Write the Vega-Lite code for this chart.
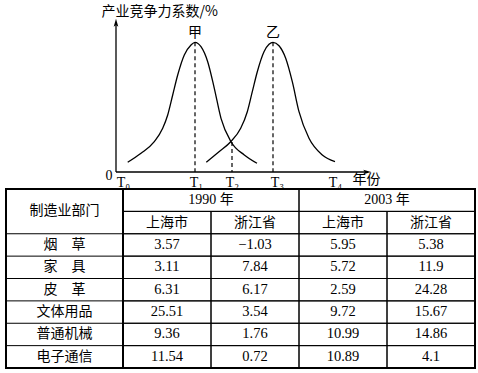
{
  "$schema": "https://vega.github.io/schema/vega-lite/v6.json",
  "padding": {"left": 4, "top": 0, "right": 0, "bottom": 0},
  "background": "white",
  "spacing": 0,
  "bounds": "flush",
  "config": {"view": {"stroke": null}},
  "datasets": {
    "curves": [
      {"series": "甲", "t": 11.7, "v": 9.7}, {"series": "甲", "t": 25, "v": 18.7}, {"series": "甲", "t": 38.3, "v": 30.3},
      {"series": "甲", "t": 46.7, "v": 43.7}, {"series": "甲", "t": 51.7, "v": 57}, {"series": "甲", "t": 56.7, "v": 77},
      {"series": "甲", "t": 61.7, "v": 97}, {"series": "甲", "t": 68.3, "v": 117}, {"series": "甲", "t": 75, "v": 127},
      {"series": "甲", "t": 79, "v": 129.7}, {"series": "甲", "t": 85, "v": 125.3}, {"series": "甲", "t": 91.7, "v": 110.3},
      {"series": "甲", "t": 98.3, "v": 83.7}, {"series": "甲", "t": 105, "v": 53.7}, {"series": "甲", "t": 115, "v": 30.3},
      {"series": "甲", "t": 128.3, "v": 17}, {"series": "甲", "t": 141, "v": 8.7},
      {"series": "乙", "t": 90.3, "v": 9.7}, {"series": "乙", "t": 103, "v": 20.3}, {"series": "乙", "t": 114.7, "v": 30.3},
      {"series": "乙", "t": 124.7, "v": 43.7}, {"series": "乙", "t": 131.3, "v": 60.3}, {"series": "乙", "t": 136.3, "v": 80.3},
      {"series": "乙", "t": 141.3, "v": 100.3}, {"series": "乙", "t": 148, "v": 120.3}, {"series": "乙", "t": 153, "v": 127.7},
      {"series": "乙", "t": 157, "v": 129.7}, {"series": "乙", "t": 163, "v": 126.3}, {"series": "乙", "t": 169.7, "v": 113.7},
      {"series": "乙", "t": 176.3, "v": 90.3}, {"series": "乙", "t": 183, "v": 60.3}, {"series": "乙", "t": 193, "v": 33.7},
      {"series": "乙", "t": 206.3, "v": 17}, {"series": "乙", "t": 219, "v": 10.3}
    ],
    "marks": [
      {"label": "甲", "t": 79, "v": 129.7},
      {"label": "乙", "t": 157, "v": 129.7},
      {"label": "", "t": 116, "v": 30}
    ],
    "departments": [
      {"row": "年份", "label": "制造业部门", "kind": "header"},
      {"row": "烟　草", "label": "烟　草", "kind": "body"},
      {"row": "家　具", "label": "家　具", "kind": "body"},
      {"row": "皮　革", "label": "皮　革", "kind": "body"},
      {"row": "文体用品", "label": "文体用品", "kind": "body"},
      {"row": "普通机械", "label": "普通机械", "kind": "body"},
      {"row": "电子通信", "label": "电子通信", "kind": "body"}
    ],
    "years": [
      {"row": "年份", "year": "1990", "label": "1990 年"},
      {"row": "年份", "year": "2003", "label": "2003 年"}
    ],
    "regions": [
      {"row": "地区", "year": "1990", "region": "上海市"},
      {"row": "地区", "year": "1990", "region": "浙江省"},
      {"row": "地区", "year": "2003", "region": "上海市"},
      {"row": "地区", "year": "2003", "region": "浙江省"}
    ],
    "values": [
      {"row": "烟　草", "year": "1990", "region": "上海市", "value": 3.57},
      {"row": "烟　草", "year": "1990", "region": "浙江省", "value": -1.03},
      {"row": "烟　草", "year": "2003", "region": "上海市", "value": 5.95},
      {"row": "烟　草", "year": "2003", "region": "浙江省", "value": 5.38},
      {"row": "家　具", "year": "1990", "region": "上海市", "value": 3.11},
      {"row": "家　具", "year": "1990", "region": "浙江省", "value": 7.84},
      {"row": "家　具", "year": "2003", "region": "上海市", "value": 5.72},
      {"row": "家　具", "year": "2003", "region": "浙江省", "value": 11.9},
      {"row": "皮　革", "year": "1990", "region": "上海市", "value": 6.31},
      {"row": "皮　革", "year": "1990", "region": "浙江省", "value": 6.17},
      {"row": "皮　革", "year": "2003", "region": "上海市", "value": 2.59},
      {"row": "皮　革", "year": "2003", "region": "浙江省", "value": 24.28},
      {"row": "文体用品", "year": "1990", "region": "上海市", "value": 25.51},
      {"row": "文体用品", "year": "1990", "region": "浙江省", "value": 3.54},
      {"row": "文体用品", "year": "2003", "region": "上海市", "value": 9.72},
      {"row": "文体用品", "year": "2003", "region": "浙江省", "value": 15.67},
      {"row": "普通机械", "year": "1990", "region": "上海市", "value": 9.36},
      {"row": "普通机械", "year": "1990", "region": "浙江省", "value": 1.76},
      {"row": "普通机械", "year": "2003", "region": "上海市", "value": 10.99},
      {"row": "普通机械", "year": "2003", "region": "浙江省", "value": 14.86},
      {"row": "电子通信", "year": "1990", "region": "上海市", "value": 11.54},
      {"row": "电子通信", "year": "1990", "region": "浙江省", "value": 0.72},
      {"row": "电子通信", "year": "2003", "region": "上海市", "value": 10.89},
      {"row": "电子通信", "year": "2003", "region": "浙江省", "value": 4.1}
    ]
  },
  "vconcat": [
    {
      "width": 469,
      "height": 189,
      "view": {"fill": "white", "stroke": null},
      "layer": [
        {
          "data": {"name": "curves"},
          "mark": {"type": "line", "interpolate": "monotone", "color": "black", "strokeWidth": 1.3},
          "encoding": {
            "x": {"field": "t", "type": "quantitative",
              "scale": {"domain": [-110, 359], "nice": false, "zero": false},
              "axis": {"values": [7, 80, 116, 161, 219],
                "labelExpr": "datum.value == 7 ? 'T\u2080' : datum.value == 80 ? 'T\u2081' : datum.value == 116 ? 'T\u2082' : datum.value == 161 ? 'T\u2083' : 'T\u2084'",
                "domain": false, "ticks": false, "grid": false, "offset": -17, "labelPadding": 3,
                "labelFont": "Liberation Serif, DejaVu Serif", "labelFontSize": 14, "labelColor": "black",
                "labelFlush": false, "labelOverlap": false,
                "title": "年份", "titleFont": "Noto Sans CJK SC", "titleFontSize": 14, "titleFontWeight": "normal",
                "titleColor": "black", "titleX": 346, "titleY": 7, "titleAlign": "left", "titleBaseline": "middle", "titleAngle": 0}},
            "y": {"field": "v", "type": "quantitative",
              "scale": {"domain": [-17, 172], "nice": false, "zero": false},
              "axis": {"domain": false, "ticks": false, "labels": false, "grid": false,
                "title": "产业竞争力系数/%", "titleAngle": 0, "titleX": 95, "titleY": 11, "titleAlign": "left", "titleBaseline": "middle",
                "titleFont": "Noto Sans CJK SC", "titleFontSize": 14, "titleFontWeight": "normal", "titleColor": "black"}},
            "detail": {"field": "series", "type": "nominal"}
          }
        },
        {
          "data": {"name": "marks"},
          "mark": {"type": "rule", "color": "black", "strokeWidth": 1.2, "strokeDash": [4, 3]},
          "encoding": {
            "x": {"field": "t", "type": "quantitative", "scale": {"domain": [-110, 359], "nice": false, "zero": false}},
            "y": {"field": "v", "type": "quantitative", "scale": {"domain": [-17, 172], "nice": false, "zero": false}},
            "y2": {"datum": 0}
          }
        },
        {
          "data": {"name": "marks"},
          "transform": [{"filter": "datum.label != ''"}],
          "mark": {"type": "text", "dy": -9, "baseline": "middle", "font": "Noto Sans CJK SC", "fontSize": 14, "color": "black"},
          "encoding": {
            "x": {"field": "t", "type": "quantitative", "scale": {"domain": [-110, 359], "nice": false, "zero": false}},
            "y": {"field": "v", "type": "quantitative", "scale": {"domain": [-17, 172], "nice": false, "zero": false}},
            "text": {"field": "label"}
          }
        },
        {
          "data": {"values": [{}]},
          "mark": {"type": "rule", "color": "black", "strokeWidth": 1.3},
          "encoding": {
            "x": {"datum": 0, "type": "quantitative", "scale": {"domain": [-110, 359], "nice": false, "zero": false}},
            "y": {"datum": 0, "type": "quantitative", "scale": {"domain": [-17, 172], "nice": false, "zero": false}},
            "y2": {"datum": 150}
          }
        },
        {
          "data": {"values": [{}]},
          "mark": {"type": "rule", "color": "black", "strokeWidth": 1.3},
          "encoding": {
            "x": {"datum": 0, "type": "quantitative", "scale": {"domain": [-110, 359], "nice": false, "zero": false}},
            "x2": {"datum": 252},
            "y": {"datum": 0, "type": "quantitative", "scale": {"domain": [-17, 172], "nice": false, "zero": false}}
          }
        },
        {
          "data": {"values": [{}]},
          "mark": {"type": "point", "shape": "M0,-1L0.55,0.9L0,0.5L-0.55,0.9Z", "size": 70, "filled": true, "color": "black", "opacity": 1},
          "encoding": {
            "x": {"datum": 0, "type": "quantitative", "scale": {"domain": [-110, 359], "nice": false, "zero": false}},
            "y": {"datum": 149, "type": "quantitative", "scale": {"domain": [-17, 172], "nice": false, "zero": false}}
          }
        },
        {
          "data": {"values": [{}]},
          "mark": {"type": "point", "shape": "M0,-1L0.55,0.9L0,0.5L-0.55,0.9Z", "angle": 90, "size": 70, "filled": true, "color": "black", "opacity": 1},
          "encoding": {
            "x": {"datum": 251, "type": "quantitative", "scale": {"domain": [-110, 359], "nice": false, "zero": false}},
            "y": {"datum": 0, "type": "quantitative", "scale": {"domain": [-17, 172], "nice": false, "zero": false}}
          }
        },
        {
          "data": {"values": [{"label": "0"}]},
          "mark": {"type": "text", "dx": -7, "dy": 4, "baseline": "middle", "font": "Liberation Serif, DejaVu Serif", "fontSize": 14, "color": "black"},
          "encoding": {
            "x": {"datum": 0, "type": "quantitative", "scale": {"domain": [-110, 359], "nice": false, "zero": false}},
            "y": {"datum": 0, "type": "quantitative", "scale": {"domain": [-17, 172], "nice": false, "zero": false}},
            "text": {"field": "label"}
          }
        }
      ]
    },
    {
      "spacing": 0,
      "bounds": "flush",
      "hconcat": [
        {
          "width": 117,
          "height": 179,
          "view": {"stroke": "black", "strokeWidth": 2},
          "data": {"name": "departments"},
          "layer": [
            {
              "transform": [{"filter": "datum.kind == 'body'"}],
              "mark": {"type": "rule", "color": "black", "strokeWidth": 1},
              "encoding": {
                "y": {"field": "row", "type": "nominal", "bandPosition": 0,
                  "scale": {"type": "band", "domain": ["年份", "地区", "烟　草", "家　具", "皮　革", "文体用品", "普通机械", "电子通信"], "paddingInner": 0, "paddingOuter": 0},
                  "axis": null}
              }
            },
            {
              "transform": [{"filter": "datum.kind == 'body'"}],
              "mark": {"type": "text", "font": "Noto Sans CJK SC", "fontSize": 14, "color": "black", "baseline": "middle"},
              "encoding": {
                "y": {"field": "row", "type": "nominal", "bandPosition": 0.5,
                  "scale": {"type": "band", "domain": ["年份", "地区", "烟　草", "家　具", "皮　革", "文体用品", "普通机械", "电子通信"], "paddingInner": 0, "paddingOuter": 0},
                  "axis": null},
                "text": {"field": "label"}
              }
            },
            {
              "transform": [{"filter": "datum.kind == 'header'"}],
              "mark": {"type": "text", "font": "Noto Sans CJK SC", "fontSize": 14, "color": "black", "baseline": "middle"},
              "encoding": {
                "y": {"field": "row", "type": "nominal", "bandPosition": 1,
                  "scale": {"type": "band", "domain": ["年份", "地区", "烟　草", "家　具", "皮　革", "文体用品", "普通机械", "电子通信"], "paddingInner": 0, "paddingOuter": 0},
                  "axis": null},
                "text": {"field": "label"}
              }
            }
          ]
        },
        {
          "width": 352,
          "height": 179,
          "view": {"stroke": "black", "strokeWidth": 2},
          "layer": [
            {
              "data": {"name": "years"},
              "mark": {"type": "rect", "filled": false, "color": "black", "strokeWidth": 1},
              "encoding": {
                "x": {"field": "year", "type": "nominal", "scale": {"type": "band", "domain": ["1990", "2003"], "paddingInner": 0, "paddingOuter": 0}, "axis": null},
                "y": {"field": "row", "type": "nominal", "scale": {"type": "band", "domain": ["年份", "地区", "烟　草", "家　具", "皮　革", "文体用品", "普通机械", "电子通信"], "paddingInner": 0, "paddingOuter": 0}, "axis": null}
              }
            },
            {
              "data": {"name": "years"},
              "mark": {"type": "text", "font": "Liberation Serif, Noto Sans CJK SC", "fontSize": 14, "color": "black", "baseline": "middle"},
              "encoding": {
                "x": {"field": "year", "type": "nominal", "bandPosition": 0.5, "scale": {"type": "band", "domain": ["1990", "2003"], "paddingInner": 0, "paddingOuter": 0}, "axis": null},
                "y": {"field": "row", "type": "nominal", "bandPosition": 0.5, "scale": {"type": "band", "domain": ["年份", "地区", "烟　草", "家　具", "皮　革", "文体用品", "普通机械", "电子通信"], "paddingInner": 0, "paddingOuter": 0}, "axis": null},
                "text": {"field": "label"}
              }
            },
            {
              "data": {"name": "regions"},
              "mark": {"type": "rect", "filled": false, "color": "black", "strokeWidth": 1},
              "encoding": {
                "x": {"field": "year", "type": "nominal", "scale": {"type": "band", "domain": ["1990", "2003"], "paddingInner": 0, "paddingOuter": 0}, "axis": null},
                "xOffset": {"field": "region", "type": "nominal", "scale": {"type": "band", "domain": ["上海市", "浙江省"], "paddingInner": 0, "paddingOuter": 0}},
                "y": {"field": "row", "type": "nominal", "scale": {"type": "band", "domain": ["年份", "地区", "烟　草", "家　具", "皮　革", "文体用品", "普通机械", "电子通信"], "paddingInner": 0, "paddingOuter": 0}, "axis": null}
              }
            },
            {
              "data": {"name": "regions"},
              "mark": {"type": "text", "font": "Noto Sans CJK SC", "fontSize": 14, "color": "black", "baseline": "middle"},
              "encoding": {
                "x": {"field": "year", "type": "nominal", "bandPosition": 0.5, "scale": {"type": "band", "domain": ["1990", "2003"], "paddingInner": 0, "paddingOuter": 0}, "axis": null},
                "xOffset": {"field": "region", "type": "nominal", "scale": {"type": "band", "domain": ["上海市", "浙江省"], "paddingInner": 0, "paddingOuter": 0}},
                "y": {"field": "row", "type": "nominal", "bandPosition": 0.5, "scale": {"type": "band", "domain": ["年份", "地区", "烟　草", "家　具", "皮　革", "文体用品", "普通机械", "电子通信"], "paddingInner": 0, "paddingOuter": 0}, "axis": null},
                "text": {"field": "region"}
              }
            },
            {
              "data": {"name": "values"},
              "mark": {"type": "rect", "filled": false, "color": "black", "strokeWidth": 1},
              "encoding": {
                "x": {"field": "year", "type": "nominal", "scale": {"type": "band", "domain": ["1990", "2003"], "paddingInner": 0, "paddingOuter": 0}, "axis": null},
                "xOffset": {"field": "region", "type": "nominal", "scale": {"type": "band", "domain": ["上海市", "浙江省"], "paddingInner": 0, "paddingOuter": 0}},
                "y": {"field": "row", "type": "nominal", "scale": {"type": "band", "domain": ["年份", "地区", "烟　草", "家　具", "皮　革", "文体用品", "普通机械", "电子通信"], "paddingInner": 0, "paddingOuter": 0}, "axis": null}
              }
            },
            {
              "data": {"name": "values"},
              "mark": {"type": "text", "font": "Liberation Serif, DejaVu Serif", "fontSize": 14.5, "color": "black", "baseline": "middle"},
              "encoding": {
                "x": {"field": "year", "type": "nominal", "bandPosition": 0.5, "scale": {"type": "band", "domain": ["1990", "2003"], "paddingInner": 0, "paddingOuter": 0}, "axis": null},
                "xOffset": {"field": "region", "type": "nominal", "scale": {"type": "band", "domain": ["上海市", "浙江省"], "paddingInner": 0, "paddingOuter": 0}},
                "y": {"field": "row", "type": "nominal", "bandPosition": 0.5, "scale": {"type": "band", "domain": ["年份", "地区", "烟　草", "家　具", "皮　革", "文体用品", "普通机械", "电子通信"], "paddingInner": 0, "paddingOuter": 0}, "axis": null},
                "text": {"field": "value", "type": "quantitative", "format": "~g"}
              }
            }
          ]
        }
      ]
    }
  ]
}
